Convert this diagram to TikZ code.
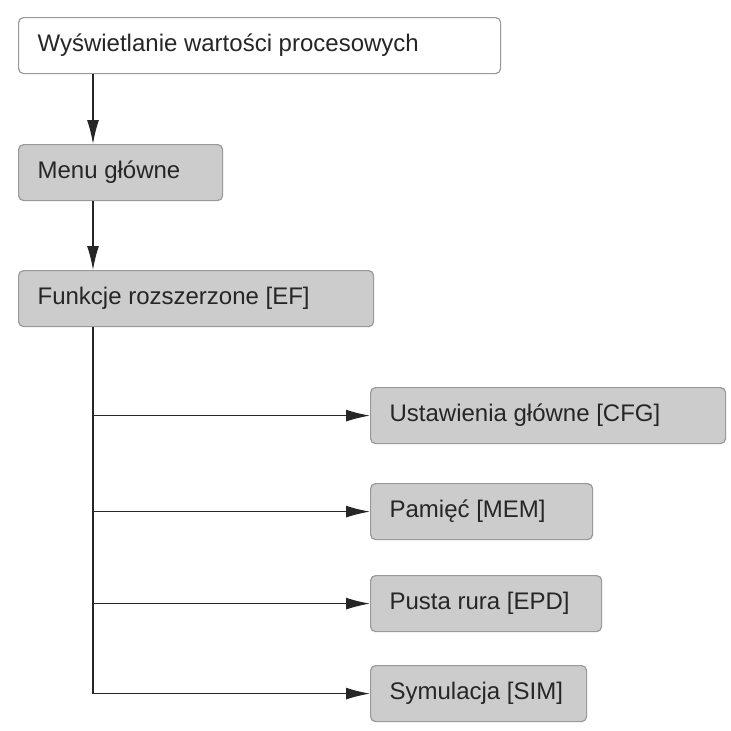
\documentclass[tikz,border=0pt]{standalone}
\usepackage{fontspec}
\setmainfont{Liberation Sans}
\usetikzlibrary{arrows.meta}
\newcommand{\lbox}[2]{\makebox[#1][l]{#2}}
\begin{document}
\begin{tikzpicture}[x=1pt,y=-1pt,
  box/.style={draw=black!40,line width=1.2pt,fill=black!20,rounded corners=5pt,anchor=north west,
    minimum height=56pt,inner xsep=19pt,font=\fontsize{24}{28}\selectfont,text=black!85},
  arr/.style={line width=1.3pt,-{Latex[length=24pt,width=12pt]},black!85},
  ln/.style={line width=1.3pt,black!85}]
\useasboundingbox (0,0) rectangle (731,731);
\node[box,fill=white] (a) at (18,17) {\lbox{444pt}{Wyświetlanie wartości procesowych}};
\node[box] (b) at (18,144) {\lbox{166pt}{Menu główne}};
\node[box] (c) at (18,270) {\lbox{317pt}{Funkcje rozszerzone [EF]}};
\node[box] (d) at (370,387) {\lbox{317pt}{Ustawienia główne [CFG]}};
\node[box] (e) at (370,483) {\lbox{184pt}{Pamięć [MEM]}};
\node[box] (f) at (370,575) {\lbox{193pt}{Pusta rura [EPD]}};
\node[box] (g) at (370,665) {\lbox{178pt}{Symulacja [SIM]}};
\draw[arr] (a.south -| 93,0) -- (b.north -| 93,0);
\draw[arr] (b.south -| 93,0) -- (c.north -| 93,0);
\coordinate (s) at (c.south -| 93,0);
\coordinate (t) at (g.west -| 93,0);
\draw[ln] (s) -- (t);
\foreach \n in {d,e,f,g} \draw[arr] (s |- \n.west) -- (\n.west);
\end{tikzpicture}
\end{document}
